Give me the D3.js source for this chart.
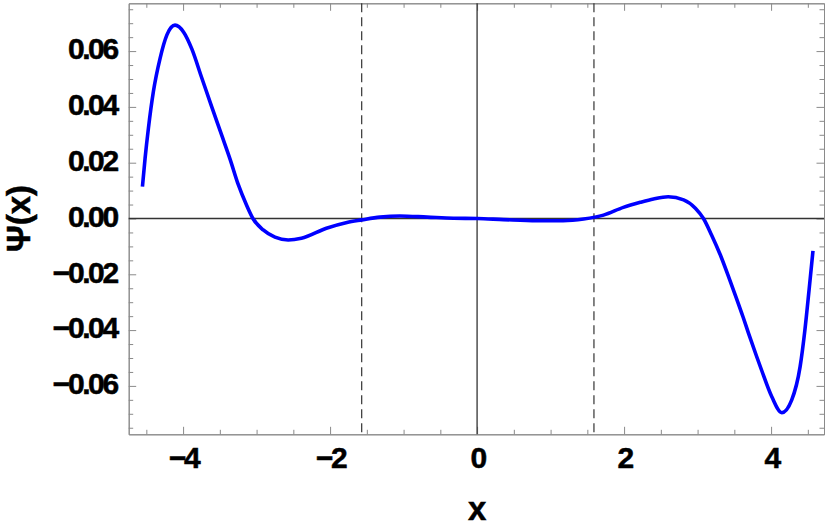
<!DOCTYPE html>
<html lang="en">
<head>
    <meta charset="UTF-8">
    <title>Psi(x)</title>
    <script src="https://cdnjs.cloudflare.com/ajax/libs/d3/7.8.5/d3.min.js"></script>
    <style>
        body {
            margin: 0;
            background-color: #ffffff;
        }
        svg {
            display: block;
            font-family: 'Liberation Sans', Arial, sans-serif;
        }
        .tick-label {
            font-size: 30px;
            font-weight: bold;
            letter-spacing: -2.4px;
            fill: #000;
            stroke: #000;
            stroke-width: 0.5px;
        }
        .axis-title {
            font-size: 33px;
            font-weight: bold;
            fill: #000;
            stroke: #000;
            stroke-width: 0.5px;
        }
    </style>
</head>
<body>
    <svg id="chart" width="830" height="530"></svg>

    <script>
        // Values
        const xValues = [-4.553, -4.517, -4.472, -4.404, -4.313, -4.22, -4.11, -3.99, -3.88, -3.75,
                         -3.61, -3.47, -3.36, -3.25, -3.14, -3.05, -2.91, -2.75, -2.57, -2.39,
                         -2.05, -1.77, -1.57, -1.32, -1.05, -0.68, -0.32, 0.00, 0.36, 0.81,
                         1.17, 1.45, 1.72, 1.99, 2.22, 2.40, 2.60, 2.81, 2.97, 3.08,
                         3.19, 3.31, 3.44, 3.53, 3.62, 3.69, 3.80, 3.87, 4.01, 4.146,
                         4.28, 4.395, 4.46, 4.517, 4.57];
        const psiValues = [0.0114, 0.0216, 0.0323, 0.0455, 0.0574, 0.0658, 0.0693, 0.0667, 0.0607, 0.0507,
                           0.0400, 0.0295, 0.0212, 0.0122, 0.0050, 0.0000, -0.0041, -0.0067, -0.0077, -0.0071,
                           -0.0035, -0.0014, -0.0005, 0.0005, 0.0009, 0.0005, 0.0001, 0.0000, -0.0004, -0.0008,
                           -0.0008, -0.0002, 0.0012, 0.0040, 0.0058, 0.0070, 0.0078, 0.0067, 0.0037, 0.0000,
                           -0.0059, -0.0131, -0.0222, -0.0287, -0.0354, -0.0409, -0.0492, -0.0543, -0.0639, -0.0696,
                           -0.0651, -0.0531, -0.0400, -0.0256, -0.0116];

        // dashed vertical markers
        const dashXs = [-1.57, 1.59];

        // ticks
        const xMajor = [-4, -2, 0, 2, 4];
        const xMajorLabels = ["\u22124", "\u22122", "0", "2", "4"];
        const xMinor = [-4.5, -3.5, -3, -2.5, -1.5, -1, -0.5, 0.5, 1, 1.5, 2.5, 3, 3.5, 4.5];
        const yMajor = [-0.06, -0.04, -0.02, 0, 0.02, 0.04, 0.06];
        const yMajorLabels = ["\u22120.06", "\u22120.04", "\u22120.02", "0.00", "0.02", "0.04", "0.06"];
        const yMinor = [-0.075, -0.07, -0.065, -0.055, -0.05, -0.045, -0.035, -0.03, -0.025,
                        -0.015, -0.01, -0.005, 0.005, 0.01, 0.015, 0.025, 0.03, 0.035,
                        0.045, 0.05, 0.055, 0.065, 0.07, 0.075];

        const svg = d3.select("#chart");
        const frameL = 128.7, frameR = 824, frameT = 3.3, frameB = 434.3;

        const x = d3.scaleLinear().domain([-4.74, 4.72]).range([frameL, frameR]);
        const y = d3.scaleLinear().domain([-0.07735, 0.07713]).range([frameB, frameT]);

        const frameColor = "#8a8a8a";
        const major = 7.5, minor = 4.5;

        function styleAxis(g) {
            g.select(".domain").attr("stroke", frameColor).attr("stroke-width", 1);
            g.selectAll(".tick line").attr("stroke", frameColor).attr("stroke-width", 1);
        }

        // bottom (labelled) + minor
        const gBottom = svg.append("g").attr("transform", `translate(0,${frameB})`)
            .call(d3.axisBottom(x).tickValues(xMajor).tickSizeInner(-major).tickSizeOuter(0)
                .tickPadding(12).tickFormat((d, i) => xMajorLabels[i]));
        gBottom.call(styleAxis);
        gBottom.selectAll("text").attr("class", "tick-label").attr("font-size", null).attr("font-family", null);

        svg.append("g").attr("transform", `translate(0,${frameB})`)
            .call(d3.axisBottom(x).tickValues(xMinor).tickSizeInner(-minor).tickSizeOuter(0).tickFormat(""))
            .call(styleAxis);

        // top, no labels
        svg.append("g").attr("transform", `translate(0,${frameT})`)
            .call(d3.axisTop(x).tickValues(xMajor).tickSizeInner(-major).tickSizeOuter(0).tickFormat(""))
            .call(styleAxis);
        svg.append("g").attr("transform", `translate(0,${frameT})`)
            .call(d3.axisTop(x).tickValues(xMinor).tickSizeInner(-minor).tickSizeOuter(0).tickFormat(""))
            .call(styleAxis);

        // left (labelled) + minor
        const gLeft = svg.append("g").attr("transform", `translate(${frameL},0)`)
            .call(d3.axisLeft(y).tickValues(yMajor).tickSizeInner(-major).tickSizeOuter(0)
                .tickPadding(12).tickFormat((d, i) => yMajorLabels[i]));
        gLeft.call(styleAxis);
        gLeft.selectAll("text").attr("class", "tick-label").attr("font-size", null)
            .attr("font-family", null).attr("dy", "0.26em");

        svg.append("g").attr("transform", `translate(${frameL},0)`)
            .call(d3.axisLeft(y).tickValues(yMinor).tickSizeInner(-minor).tickSizeOuter(0).tickFormat(""))
            .call(styleAxis);

        // right, no labels
        svg.append("g").attr("transform", `translate(${frameR},0)`)
            .call(d3.axisRight(y).tickValues(yMajor).tickSizeInner(-major).tickSizeOuter(0).tickFormat(""))
            .call(styleAxis);
        svg.append("g").attr("transform", `translate(${frameR},0)`)
            .call(d3.axisRight(y).tickValues(yMinor).tickSizeInner(-minor).tickSizeOuter(0).tickFormat(""))
            .call(styleAxis);

        // zero axes
        svg.append("line")
            .attr("x1", frameL).attr("x2", frameR)
            .attr("y1", y(0)).attr("y2", y(0))
            .attr("stroke", "#333").attr("stroke-width", 1.3);
        svg.append("line")
            .attr("x1", x(0)).attr("x2", x(0))
            .attr("y1", frameT).attr("y2", frameB)
            .attr("stroke", "#333").attr("stroke-width", 1.3);

        // dashed markers
        svg.selectAll(".marker").data(dashXs).enter().append("line")
            .attr("class", "marker")
            .attr("x1", d => x(d)).attr("x2", d => x(d))
            .attr("y1", frameT).attr("y2", frameB)
            .attr("stroke", "#333").attr("stroke-width", 1.2)
            .attr("stroke-dasharray", "9,5");

        // curve
        const points = xValues.map((v, i) => [v, psiValues[i]]);
        const line = d3.line()
            .x(d => x(d[0]))
            .y(d => y(d[1]))
            .curve(d3.curveMonotoneX);

        svg.append("path")
            .datum(points)
            .attr("d", line)
            .attr("fill", "none")
            .attr("stroke", "#0000ff")
            .attr("stroke-width", 3.6)
            .attr("stroke-linejoin", "round");

        // axis titles
        svg.append("text")
            .attr("class", "axis-title")
            .attr("x", x(0))
            .attr("y", 520)
            .attr("text-anchor", "middle")
            .text("x");

        svg.append("text")
            .attr("class", "axis-title")
            .attr("transform", `translate(30,${y(0)}) rotate(-90)`)
            .attr("text-anchor", "middle")
            .text("\u03A8(x)");
    </script>
</body>
</html>
